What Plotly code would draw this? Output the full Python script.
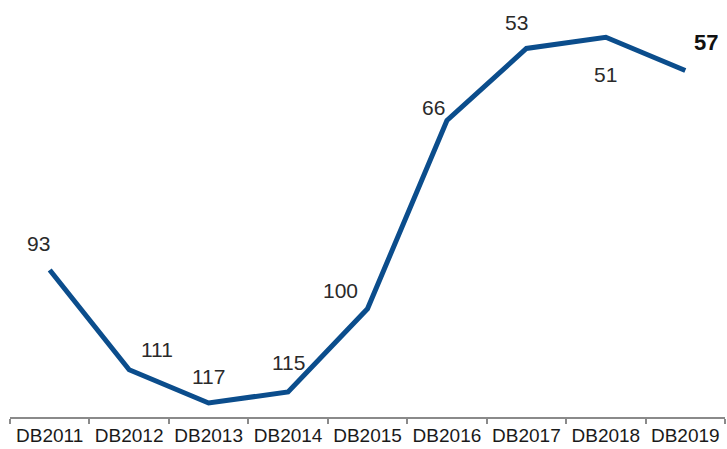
import plotly.graph_objects as go

categories = ["DB2011", "DB2012", "DB2013", "DB2014", "DB2015", "DB2016", "DB2017", "DB2018", "DB2019"]
ranks = [93, 111, 117, 115, 100, 66, 53, 51, 57]

# label offsets (pixels) and emphasis
label_dx = [-11, 28, 0, 0, -27, -13, -10, 0, 21]
label_dy = [27, 20, 26, 29, 18, 13, 26, -37, 28]
label_bold = [False] * 8 + [True]

fig = go.Figure()
fig.add_trace(go.Scatter(
    x=categories, y=ranks, mode="lines",
    line=dict(color="#0b4d8c", width=5),
    hoverinfo="skip", showlegend=False,
))

for c, v, dx, dy, b in zip(categories, ranks, label_dx, label_dy, label_bold):
    fig.add_annotation(
        x=c, y=v, text=f"<b>{v}</b>" if b else str(v), showarrow=False,
        xshift=dx, yshift=dy,
        font=dict(family="Liberation Sans, Arial, sans-serif", size=22 if b else 21,
                  color="#111" if b else "#2a2a2a"),
    )

fig.update_layout(
    width=727, height=449,
    margin=dict(l=10, r=2, t=10, b=32, autoexpand=False),
    paper_bgcolor="white", plot_bgcolor="white",
    font=dict(family="Liberation Sans, Arial, sans-serif", color="#222"),
)
fig.update_xaxes(
    type="category", range=[-0.5, 8.5],
    showline=True, linecolor="#8a8a8a", linewidth=1.5,
    ticks="outside", tickson="boundaries", ticklen=5, tickcolor="#8a8a8a", tickwidth=1.5,
    ticklabelstandoff=0, tickangle=0, automargin=False,
    showgrid=False, zeroline=False,
    tickfont=dict(size=19, color="#1a1a1a"),
)
fig.update_yaxes(
    range=[119.53, 46.07], visible=False, showgrid=False, zeroline=False,
)

fig.write_html(
    "out.html",
    config={"displayModeBar": False},
    post_script="document.body.style.margin='0';document.body.style.overflow='hidden';",
)
